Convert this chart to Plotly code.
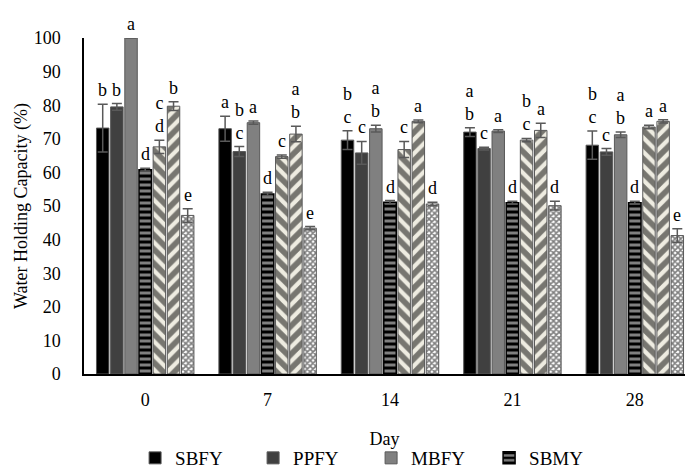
import plotly.graph_objects as go

# Storage day (x categories)
days = ["0", "7", "14", "21", "28"]

# Water holding capacity (%) per yogurt type, with standard deviations
sbfy = [73.2, 73.0, 69.6, 72.0, 68.1]
sbfy_err = [7.1, 3.7, 2.8, 1.3, 4.2]
ppfy = [79.5, 66.2, 65.8, 67.1, 66.1]
ppfy_err = [1.0, 1.5, 3.4, 0.4, 1.0]
mbfy = [100.0, 74.8, 73.0, 72.3, 71.2]
mbfy_err = [0.0, 0.5, 1.0, 0.4, 0.8]
sbmy = [60.8, 53.6, 51.1, 51.0, 51.0]
sbmy_err = [0.4, 0.5, 0.5, 0.4, 0.4]
ppmy = [67.6, 64.7, 66.8, 69.6, 73.5]
ppmy_err = [2.0, 0.5, 2.4, 0.5, 0.5]
mbmy = [79.7, 71.4, 75.2, 72.5, 75.2]
mbmy_err = [1.3, 2.3, 0.4, 2.1, 0.5]
ctrl = [47.2, 43.4, 50.6, 50.1, 41.2]
ctrl_err = [2.0, 0.5, 0.5, 1.3, 2.0]

# Significance letters above each bar
sbfy_sig = ["b", "a", "b<br>c", "a<br>b", "b<br>c"]
ppfy_sig = ["b", "b<br>c", "c", "c", "c"]
mbfy_sig = ["a", "a", "a<br>b", "a", "a<br>b"]
sbmy_sig = ["d", "d", "d", "d", "d"]
ppmy_sig = ["c<br>d", "c", "c", "b<br>c", "a"]
mbmy_sig = ["b", "a<br>b", "a", "a", "a"]
ctrl_sig = ["e", "e", "d", "d", "e"]

FONT = "'Liberation Serif', 'Times New Roman', serif"
CREAM = "#eeece1"

series = [
    ("SBFY", sbfy, sbfy_err, sbfy_sig, dict(color="#000000", line=dict(color="#595959", width=1)), True),
    ("PPFY", ppfy, ppfy_err, ppfy_sig, dict(color="#404040", line=dict(color="#595959", width=1)), True),
    ("MBFY", mbfy, mbfy_err, mbfy_sig, dict(color="#808080", line=dict(color="#595959", width=1)), True),
    ("SBMY", sbmy, sbmy_err, sbmy_sig,
     dict(color="#000000", line=dict(color="#000000", width=1.5),
          pattern=dict(shape="-", bgcolor="#000000", fgcolor="#ffffff", size=6, solidity=0.5)), True),
    ("PPMY", ppmy, ppmy_err, ppmy_sig,
     dict(color=CREAM, line=dict(color="#595959", width=1),
          pattern=dict(shape="\\", bgcolor=CREAM, fgcolor="#000000", size=10, solidity=0.58)), False),
    ("MBMY", mbmy, mbmy_err, mbmy_sig,
     dict(color=CREAM, line=dict(color="#595959", width=1),
          pattern=dict(shape="/", bgcolor=CREAM, fgcolor="#000000", size=10, solidity=0.58)), False),
    ("Control", ctrl, ctrl_err, ctrl_sig,
     dict(color="#ffffff", line=dict(color="#595959", width=1),
          pattern=dict(shape="x", bgcolor="#ffffff", fgcolor="#000000", size=4, solidity=0.65)), False),
]

BARGAP = 0.19
BARGROUPGAP = 0.12
n = len(series)
slot = (1 - BARGAP) / n

fig = go.Figure()
annotations = []
for j, (name, vals, errs, sig, marker, inleg) in enumerate(series):
    fig.add_trace(go.Bar(
        name=name, x=days, y=vals, marker=marker, showlegend=inleg,
        error_y=dict(type="data", array=errs, visible=True, color="#595959", thickness=1.5, width=5),
    ))
    off = -(1 - BARGAP) / 2 + (j + 0.5) * slot
    for i in range(len(days)):
        annotations.append(dict(
            x=i + off, y=vals[i] + errs[i], xref="x", yref="y",
            text=sig[i], showarrow=False, yanchor="bottom", yshift=2,
            font=dict(family=FONT, size=18, color="#000000"),
        ))

fig.update_layout(
    width=685, height=470,
    margin=dict(l=84, r=0, t=38, b=96, autoexpand=False),
    paper_bgcolor="white", plot_bgcolor="white",
    barmode="group", bargap=BARGAP, bargroupgap=BARGROUPGAP,
    font=dict(family=FONT, size=18, color="#000000"),
    annotations=annotations,
    legend=dict(
        orientation="h", x=0.085, y=-0.25, xanchor="left", yanchor="middle",
        entrywidth=73, entrywidthmode="pixels",
        font=dict(family=FONT, size=19), traceorder="normal",
    ),
)
fig.update_xaxes(
    type="category", range=[-0.5, 4.41], automargin=False,
    showline=True, linecolor="#000000", linewidth=1.5,
    ticks="", showgrid=False, ticklabelstandoff=9,
    title=dict(text="Day", font=dict(family=FONT, size=18), standoff=23),
)
fig.update_yaxes(
    range=[0, 100], tickvals=list(range(0, 101, 10)), automargin=False,
    showline=True, linecolor="#000000", linewidth=1.5,
    ticks="", showgrid=False, zeroline=False, ticklabelstandoff=18,
    title=dict(text="Water Holding Capacity (%)", font=dict(family=FONT, size=18), standoff=1),
)

fig.write_html("out.html")
